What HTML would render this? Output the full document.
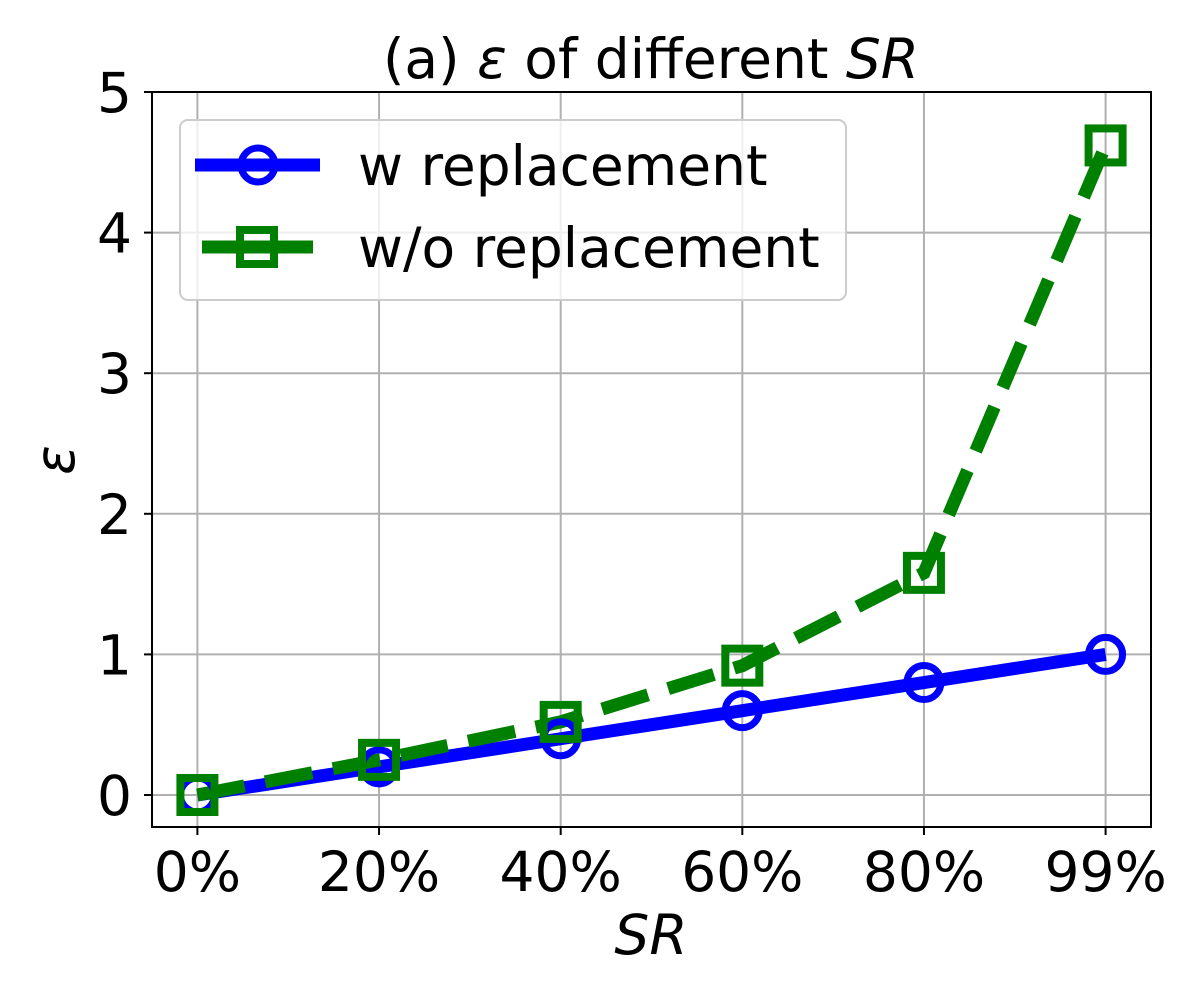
<!DOCTYPE html>
<html><head><meta charset="utf-8"><style>
html,body{margin:0;padding:0;background:#fff;}
svg{display:block;font-family:"DejaVu Sans","Liberation Sans",sans-serif;}
</style></head><body>
<svg id="chart" width="1200" height="1000" viewBox="0 0 1200 1000">
<g id="grid"></g>
<g id="series"></g>
<rect x="152" y="92" width="999" height="735" fill="none" stroke="#000" stroke-width="2"/>
<g id="ticks"></g>
<text x="651" y="78" font-size="55" text-anchor="middle">(a) <tspan font-style="italic">ε</tspan> of different <tspan font-style="italic">SR</tspan></text>
<text x="651" y="954" font-size="55" font-style="italic" text-anchor="middle">SR</text>
<text transform="translate(74,460) rotate(-90)" font-size="55" font-style="italic" text-anchor="middle">ε</text>
<g>
<rect x="180" y="120" width="666" height="180" rx="8" fill="#fff" fill-opacity="0.8" stroke="#ccc" stroke-width="2"/>
<g>
<line x1="195" y1="165" x2="320" y2="165" stroke="#0000ff" stroke-width="13"/>
<circle cx="258" cy="165" r="17" fill="none" stroke="#0000ff" stroke-width="7"/>
<text x="358" y="185" font-size="55">w replacement</text></g>
<g>
<line x1="202" y1="247" x2="313" y2="247" stroke="#008000" stroke-width="13"/>
<rect x="240" y="230" width="34" height="34" fill="none" stroke="#008000" stroke-width="8"/>
<text x="358" y="267" font-size="55">w/o replacement</text></g>
</g>
</svg>
<script>
const categories=["0%","20%","40%","60%","80%","99%"];
const wReplacement=[0,0.2,0.4,0.6,0.8,1.0];
const woReplacement=[0,0.25,0.52,0.92,1.58,4.62];
const yTicks=[0,1,2,3,4,5];
const NS="http://www.w3.org/2000/svg";
const X0=152,X1=1151,Y0=827,Y1=92;
const xs=i=>X0+(i+0.25)/5.5*(X1-X0);
const ys=v=>795-v*140.6;
function mk(t,a,p){const e=document.createElementNS(NS,t);for(const k in a)e.setAttribute(k,a[k]);p.appendChild(e);return e;}
const grid=document.getElementById('grid'),ticks=document.getElementById('ticks'),ser=document.getElementById('series');
categories.forEach((c,i)=>{const x=xs(i);
const g=mk('line',{x1:x,x2:x,y1:Y1,y2:Y0,stroke:'#b0b0b0','stroke-width':2},grid);


mk('line',{x1:x,x2:x,y1:Y0,y2:Y0+8,stroke:'#000','stroke-width':2},ticks);
const t=mk('text',{x:x,y:Y0+64,'font-size':55,'text-anchor':'middle'},ticks);t.textContent=c;

});
yTicks.forEach(v=>{const y=ys(v);
const g=mk('line',{x1:X0,x2:X1,y1:y,y2:y,stroke:'#b0b0b0','stroke-width':2},grid);


mk('line',{x1:X0-8,x2:X0,y1:y,y2:y,stroke:'#000','stroke-width':2},ticks);
const t=mk('text',{x:X0-20,y:y+20,'font-size':55,'text-anchor':'end'},ticks);t.textContent=v;

});
function pts(a){return a.map((v,i)=>xs(i)+','+ys(v)).join(' ');}
const l1=mk('polyline',{points:pts(wReplacement),fill:'none',stroke:'#0000ff','stroke-width':13,'stroke-linejoin':'round'},ser);


const l2=mk('polyline',{points:pts(woReplacement),fill:'none',stroke:'#008000','stroke-width':13,'stroke-dasharray':'48 21'},ser);


wReplacement.forEach((v,i)=>{const c=mk('circle',{cx:xs(i),cy:ys(v),r:17,fill:'none',stroke:'#0000ff','stroke-width':7},ser);

});
woReplacement.forEach((v,i)=>{const r=mk('rect',{x:xs(i)-17,y:ys(v)-17,width:34,height:34,fill:'none',stroke:'#008000','stroke-width':8},ser);

});
</script>
</body></html>
